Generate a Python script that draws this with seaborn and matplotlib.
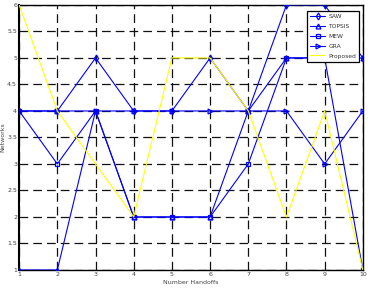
import matplotlib
matplotlib.use("Agg")
import matplotlib.pyplot as plt
import seaborn as sns
import pandas as pd

handoffs = [1, 2, 3, 4, 5, 6, 7, 8, 9, 10]
saw = [4, 4, 5, 4, 4, 5, 4, 6, 6, 5]
topsis = [1, 1, 4, 2, 2, 2, 4, 5, 5, 5]
mew = [4, 3, 4, 2, 2, 2, 3, 5, 5, 1]
gra = [4, 4, 4, 4, 4, 4, 4, 4, 3, 4]
proposed = [6, 4, 3, 2, 5, 5, 4, 2, 4, 1]
series_names = ["SAW", "TOPSIS", "MEW", "GRA", "Proposed"]
yticks = [1, 1.5, 2, 2.5, 3, 3.5, 4, 4.5, 5, 5.5, 6]
ytick_labels = ["1", "1.5", "2", "2.5", "3", "3.5", "4", "4.5", "5", "5.5", "6"]

sns.set_style("white")
plt.rcParams['font.family'] = ['DejaVu Sans']

fig = plt.figure(figsize=(3.68, 2.90), dpi=100)
ax = fig.add_axes([0.052, 0.069, 0.934, 0.914])

colors = ["#0000ff", "#0000ff", "#0000ff", "#0000ff", "#ffff00"]
markers = ["d", "^", "s", ">", None]
for name, vals, c, m in zip(series_names, [saw, topsis, mew, gra, proposed], colors, markers):
    d = pd.DataFrame({"Number Handoffs": handoffs, "Networks": vals})
    kw = dict(linewidth=0.8, color=c, label=name, zorder=3)
    if m:
        kw.update(marker=m, markersize=3.5, markerfacecolor="none",
                  markeredgecolor=c, markeredgewidth=0.9)
    sns.lineplot(data=d, x="Number Handoffs", y="Networks", ax=ax, **kw)

ax.set_xlim(1, 10)
ax.set_ylim(1, 6)
ax.set_xticks(handoffs)
ax.set_xticklabels([str(h) for h in handoffs])
ax.set_yticks(yticks)
ax.set_yticklabels(ytick_labels)
ax.tick_params(axis="both", labelsize=4.5, colors="#444444", length=2, direction="in", pad=1.5)
ax.grid(True, color="#111111", linestyle=(0, (7, 4)), linewidth=0.9, zorder=1)
ax.set_axisbelow(True)
for s in ax.spines.values():
    s.set_color("black")
    s.set_linewidth(1.0)
ax.spines["left"].set_linewidth(1.5)
ax.set_xlabel("Number Handoffs", fontsize=4.5, color="#444444", labelpad=2)
ax.set_ylabel("Networks", fontsize=4.5, color="#444444", labelpad=1)

leg = ax.legend(loc="upper right", fontsize=4.3, frameon=True, fancybox=False,
                edgecolor="black", framealpha=1, handlelength=2.6,
                labelspacing=0.8, borderpad=0.5, handletextpad=0.5,
                bbox_to_anchor=(0.998, 0.99))
leg.get_frame().set_linewidth(0.9)
for t in leg.get_texts():
    t.set_color("#333333")

fig.savefig("out.png", dpi=100)
